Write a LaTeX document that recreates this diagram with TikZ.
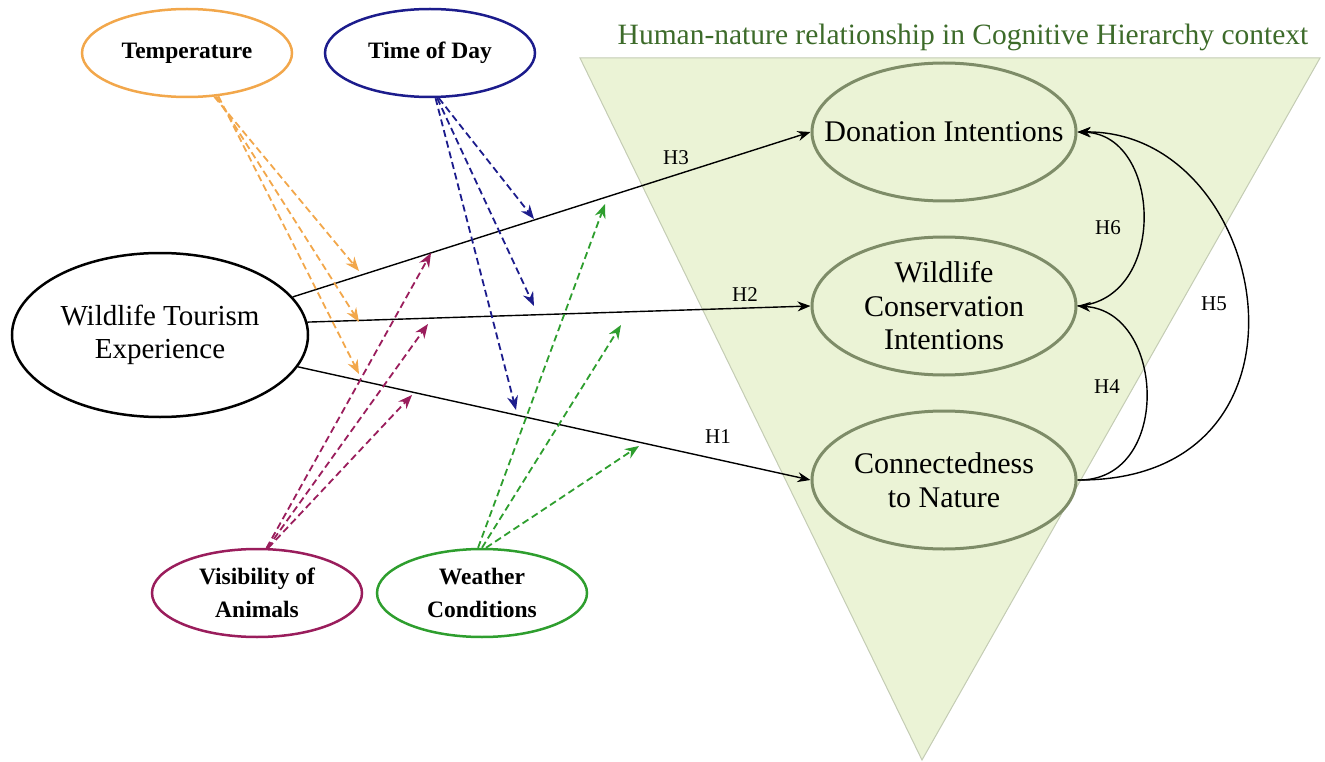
\documentclass[tikz,border=0pt]{standalone}
\usepackage{fontspec}
\setmainfont{Liberation Serif}
\usetikzlibrary{arrows.meta,shapes.geometric}
\definecolor{tempc}{HTML}{F2A74B}
\definecolor{timec}{HTML}{1C1C8C}
\definecolor{visc}{HTML}{9A1D5C}
\definecolor{weac}{HTML}{2E9E2E}
\definecolor{trifill}{HTML}{EBF3D6}
\definecolor{triedge}{HTML}{C4CCB4}
\definecolor{innerc}{HTML}{7E8C68}
\definecolor{titlec}{HTML}{3D6B2A}
\begin{document}
\begin{tikzpicture}[x=1pt,y=-1pt,
  smallell/.style={ellipse, draw, line width=2.5pt, minimum width=210pt, minimum height=88pt,
    inner sep=0pt},
  smalltxt/.style={font=\fontsize{23.5}{33}\selectfont\bfseries, align=center, inner sep=0pt},
  innerell/.style={ellipse, draw=innerc, fill=trifill, line width=3pt, minimum width=264pt,
    minimum height=138pt, inner sep=0pt},
  innertxt/.style={font=\fontsize{30}{33.5}\selectfont, align=center, inner sep=0pt},
  sol/.style={line width=1.4pt, -{Stealth[length=13pt,width=10pt]}},
  dsh/.style={line width=1.8pt, dash pattern=on 7pt off 4pt, -{Stealth[length=14pt,width=11pt]}},
  hlab/.style={font=\fontsize{21}{22}\selectfont, inner sep=0pt}
]
\useasboundingbox (0,0) rectangle (1325,762);
% triangle
\path[fill=trifill, draw=triedge, line width=1pt] (580,58) -- (1320,58) -- (922,760) -- cycle;
\node[font=\fontsize{29.5}{32}\selectfont, text=titlec, inner sep=0pt] (title) at (963,37)
  {Human-nature relationship in Cognitive Hierarchy context};
% outer nodes
\node[smallell, draw=tempc] (temp) at (187,53) {};
\node[smalltxt] (tempt) at (temp.center) {Temperature};
\node[smallell, draw=timec] (tod) at (430,53) {};
\node[smalltxt] (todt) at (tod.center) {Time of Day};
\node[smallell, draw=visc] (vis) at (257,593) {};
\node[smalltxt] (vist) at (vis.center) {Visibility of\\Animals};
\node[smallell, draw=weac] (wea) at (482,593) {};
\node[smalltxt] (weat) at (wea.center) {Weather\\Conditions};
\node[ellipse, draw, line width=2.5pt, minimum width=296pt, minimum height=164pt, inner sep=0pt]
  (wte) at (160,335) {};
\node[font=\fontsize{29}{33}\selectfont, align=center, inner sep=0pt] (wtet) at (wte.center)
  {Wildlife Tourism\\Experience};
% inner nodes
\node[innerell] (don) at (944,132) {};
\node[innertxt] (dont) at (don.center) {Donation Intentions};
\node[innerell] (wci) at (944,306) {};
\node[innertxt] (wcit) at (wci.center) {Wildlife\\Conservation\\Intentions};
\node[innerell] (ctn) at (944,480) {};
\node[innertxt] (ctnt) at (ctn.center) {Connectedness\\to Nature};
% solid arrows
\draw[sol] (wte.16) -- (don.west);
\draw[sol] (wte.5) -- (wci.west);
\draw[sol] (wte.-13) -- (ctn.west);
\draw[sol] (wci.east) .. controls (1168,300) and (1162,135) .. (don.east);
\draw[sol] (ctn.east) .. controls (1172,482) and (1166,312) .. (wci.east);
\draw[sol] (ctn.east) .. controls (1335,482) and (1272,130) .. (don.east);
% labels
\node[hlab] (h3) at (676,158) {H3};
\node[hlab] (h2) at (745,295) {H2};
\node[hlab] (h1) at (718,437) {H1};
\node[hlab] (h6) at (1108,228) {H6};
\node[hlab] (h5) at (1214,304) {H5};
\node[hlab] (h4) at (1107,387) {H4};
% target coordinates
\coordinate (t1) at (359,271);
\coordinate (t2) at (359,322);
\coordinate (t3) at (359,374);
\coordinate (d1) at (534,219);
\coordinate (d2) at (534,306);
\coordinate (d3) at (516,410);
\coordinate (v1) at (431,253);
\coordinate (v2) at (428,324);
\coordinate (v3) at (412,395);
\coordinate (w1) at (605,204);
\coordinate (w2) at (621,325);
\coordinate (w3) at (639,446);
% dashed arrows
\draw[dsh, tempc] (temp.-58) -- (t1);
\draw[dsh, tempc] (temp.-56) -- (t2);
\draw[dsh, tempc] (temp.-54) -- (t3);
\draw[dsh, timec] (tod.-79) -- (d1);
\draw[dsh, timec] (tod.-81) -- (d2);
\draw[dsh, timec] (tod.-83) -- (d3);
\draw[dsh, visc] (vis.78) -- (v1);
\draw[dsh, visc] (vis.77) -- (v2);
\draw[dsh, visc] (vis.76) -- (v3);
\draw[dsh, weac] (wea.95) -- (w1);
\draw[dsh, weac] (wea.90) -- (w2);
\draw[dsh, weac] (wea.85) -- (w3);
\end{tikzpicture}
\end{document}
